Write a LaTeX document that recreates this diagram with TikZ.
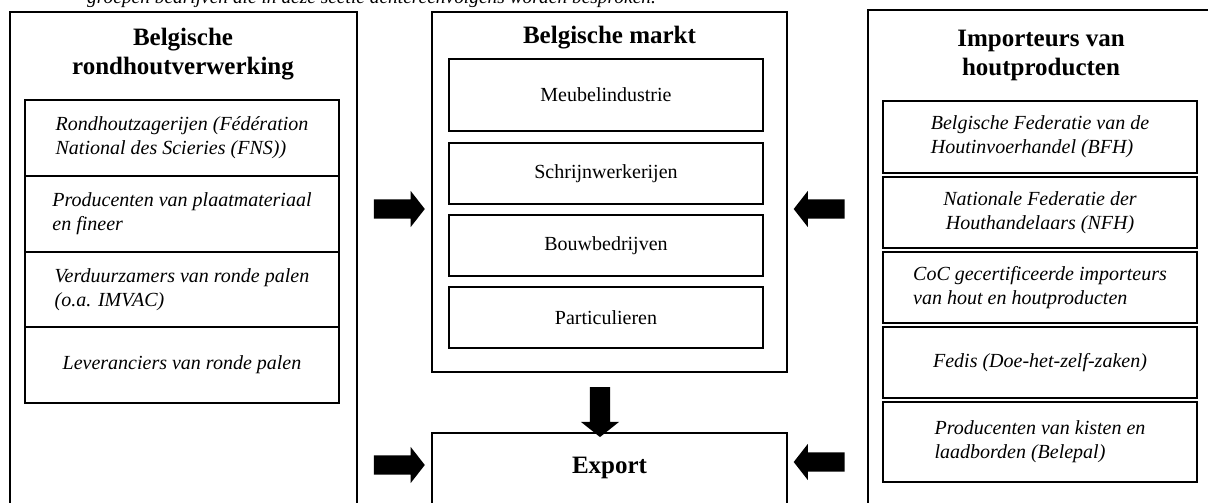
\documentclass[tikz,border=0pt]{standalone}
\usepackage{fontspec}
\setmainfont{Liberation Serif}
\usetikzlibrary{shapes.arrows}

\begin{document}
\begin{tikzpicture}[x=1pt,y=-1pt,
  outerbox/.style={draw, line width=1.5pt, outer sep=0pt, anchor=north west},
  innerbox/.style={draw, line width=1.4pt, outer sep=0pt, anchor=north west,
    minimum width=314pt, align=left, font=\fontsize{20}{24}\selectfont\itshape},
  marktbox/.style={innerbox, align=center, font=\fontsize{20}{24}\selectfont},
  kop/.style={align=center, font=\fontsize{25}{29}\selectfont\bfseries},
  blok/.style={single arrow, fill=black, inner xsep=0pt, inner ysep=9.5pt,
    minimum height=51pt, single arrow head extend=8.5pt, single arrow tip angle=104}]
  \clip (0,0) rectangle (1208,503);

  \node[anchor=base west, inner sep=0pt, font=\fontsize{19.4}{23}\selectfont\itshape] (onderschrift)
  at (87,4) {groepen bedrijven die in deze sectie achtereenvolgens worden besproken.};

  % linker kolom
  \node[outerbox, minimum width=347pt, minimum height=520pt] (rond) at (10,12) {};
  \node[kop] (rondkop) at (183,54) {Belgische\\rondhoutverwerking};
  \node[innerbox, minimum height=76pt] (zagerij) at (25,100)
  {Rondhoutzagerijen (Fédération\\National des Scieries (FNS))};
  \node[innerbox, minimum height=76pt] (plaat) at (25,176)
  {Producenten van plaatmateriaal\\en fineer};
  \node[innerbox, minimum height=75pt] (verduurzamer) at (25,252)
  {Verduurzamers van ronde palen\\(o.a. IMVAC)};
  \node[innerbox, minimum height=76pt] (leverancier) at (25,327)
  {Leveranciers van ronde palen};

  % midden
  \node[outerbox, minimum width=355pt, minimum height=360pt] (markt) at (432,12) {};
  \node[kop] (marktkop) at (609.5,38) {Belgische markt};
  \node[marktbox, minimum height=72pt] (meubel) at (449,59) {Meubelindustrie};
  \node[marktbox, minimum height=61pt] (schrijnwerk) at (449,143) {Schrijnwerkerijen};
  \node[marktbox, minimum height=61pt] (bouw) at (449,215) {Bouwbedrijven};
  \node[marktbox, minimum height=61pt] (particulier) at (449,287) {Particulieren};
  \node[outerbox, minimum width=355pt, minimum height=100pt] (export) at (432,433) {};
  \node[kop] (exportkop) at (609.5,468) {Export};

  % rechter kolom
  \node[outerbox, minimum width=360pt, minimum height=520pt] (import) at (868,10) {};
  \node[kop] (importkop) at (1041,55) {Importeurs van\\houtproducten};
  \node[innerbox, minimum height=72pt] (bfh) at (883,101)
  {Belgische Federatie van de\\Houtinvoerhandel (BFH)};
  \node[innerbox, minimum height=71pt, align=center] (nfh) at (883,177)
  {Nationale Federatie der\\Houthandelaars (NFH)};
  \node[innerbox, minimum height=71pt] (coc) at (883,252)
  {CoC gecertificeerde importeurs\\van hout en houtproducten};
  \node[innerbox, minimum height=71pt] (fedis) at (883,327)
  {Fedis (Doe-het-zelf-zaken)};
  \node[innerbox, minimum height=80pt] (belepal) at (883,402)
  {Producenten van kisten en\\laadborden (Belepal)};

  % pijlen
  \node[blok] (pijlA) at (395.5,209) {};
  \node[blok] (pijlB) at (395.5,465) {};
  \node[blok, shape border rotate=180] (pijlC) at (823,209) {};
  \node[blok, shape border rotate=180] (pijlD) at (823,462) {};
  \node[blok, shape border rotate=270, minimum height=50pt, inner xsep=10pt, inner ysep=0pt,
    single arrow head extend=9pt, single arrow tip angle=103] (pijlE) at (600,408) {};
\end{tikzpicture}
\end{document}
